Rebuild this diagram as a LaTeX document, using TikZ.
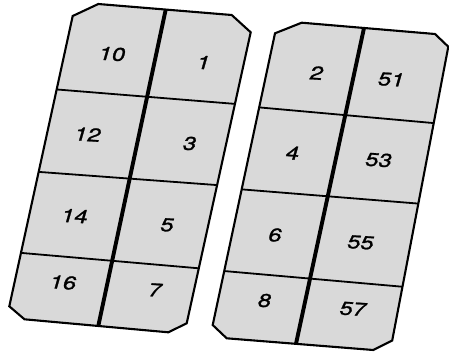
\documentclass[tikz,border=0pt]{standalone}
\usepackage{fontspec}
\setmainfont{TeX Gyre Heros}
\newfontfamily\numfont[FakeBold=1.2]{TeX Gyre Heros}
\usetikzlibrary{calc}
\definecolor{panelgray}{RGB}{217,217,217}
\begin{document}
\begin{tikzpicture}[x=1pt,y=-1pt,
  panelfill/.style={fill=panelgray, draw=none},
  outline/.style={draw=black, line width=2.1pt, line join=miter},
  divider/.style={draw=black, line width=1.8pt},
  spine/.style={draw=black, line width=3.9pt},
  num/.style={font=\numfont\fontsize{18.5}{18.5}\selectfont, inner sep=0pt, xscale=1.3, xslant=0.22, yslant=-0.085}]
\useasboundingbox (0,0) rectangle (449,351);
% left panel corners
\coordinate (A1) at (72.7,16);
\coordinate (A2) at (98.3,4);
\coordinate (A3) at (231.7,15);
\coordinate (A4) at (250.7,32.3);
\coordinate (A5) at (186.7,323.3);
\coordinate (A6) at (168.3,332.3);
\coordinate (A7) at (24.5,319.3);
\coordinate (A8) at (9.3,306.3);
% right panel corners
\coordinate (B1) at (275,33.3);
\coordinate (B2) at (301.7,22.7);
\coordinate (B3) at (435,34);
\coordinate (B4) at (448.3,46.7);
\coordinate (B5) at (392.2,340.5);
\coordinate (B6) at (373.3,350);
\coordinate (B7) at (226.7,338.3);
\coordinate (B8) at (212.7,325);
% spines
\coordinate (AS1) at (165.7,9.6);
\coordinate (AS2) at (98.3,325.9);
\coordinate (BS1) at (364,28);
\coordinate (BS2) at (296,343.8);

\path[panelfill] (A1)--(A2)--(A3)--(A4)--(A5)--(A6)--(A7)--(A8)--cycle;
\path[panelfill] (B1)--(B2)--(B3)--(B4)--(B5)--(B6)--(B7)--(B8)--cycle;

% left dividers
\draw[divider] ($(A1)!0.253!(A8)$) -- ($(A4)!0.246!(A5)$);
\draw[divider] ($(A1)!0.537!(A8)$) -- ($(A4)!0.525!(A5)$);
\draw[divider] ($(A1)!0.816!(A8)$) -- ($(A4)!0.811!(A5)$);
% right dividers
\draw[divider] ($(B1)!0.254!(B8)$) -- ($(B4)!0.26!(B5)$);
\draw[divider] ($(B1)!0.535!(B8)$) -- ($(B4)!0.534!(B5)$);
\draw[divider] ($(B1)!0.815!(B8)$) -- ($(B4)!0.817!(B5)$);

\draw[spine] (AS1) -- (AS2);
\draw[spine] (BS1) -- (BS2);

\draw[outline] (A1)--(A2)--(A3)--(A4)--(A5)--(A6)--(A7)--(A8)--cycle;
\draw[outline] (B1)--(B2)--(B3)--(B4)--(B5)--(B6)--(B7)--(B8)--cycle;

% labels left
\node[num] (n10) at (112.5,54) {10};
\node[num] (n1) at (204,62.5) {1};
\node[num] (n12) at (88,134.5) {12};
\node[num] (n3) at (190,143.5) {3};
\node[num] (n14) at (75,216) {14};
\node[num] (n5) at (167.5,225) {5};
\node[num] (n16) at (63.5,282.5) {16};
\node[num] (n7) at (155.5,290) {7};
% labels right
\node[num] (n2) at (317,73) {2};
\node[num] (n51) at (391.7,79.5) {51};
\node[num] (n4) at (293,153) {4};
\node[num] (n53) at (379,160) {53};
\node[num] (n6) at (275.5,235) {6};
\node[num] (n55) at (361,242.5) {55};
\node[num] (n8) at (265,300.5) {8};
\node[num] (n57) at (353.3,309) {57};
\end{tikzpicture}
\end{document}
